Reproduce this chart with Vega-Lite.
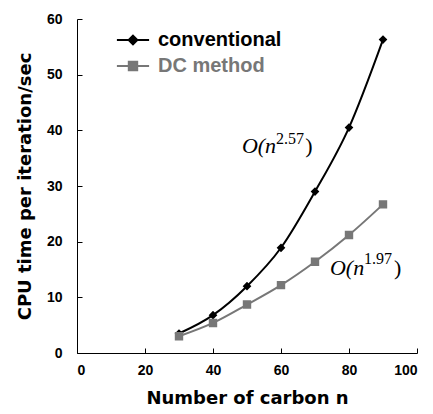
{
  "$schema": "https://vega.github.io/schema/vega-lite/v6.json",
  "autosize": {"type": "none"},
  "padding": {"left": 77, "top": 19, "right": 16, "bottom": 61},
  "width": 340,
  "height": 334,
  "background": "white",
  "config": {
    "view": {"stroke": null},
    "axis": {
      "grid": false,
      "domainColor": "#000",
      "domainWidth": 1,
      "tickColor": "#000",
      "tickSize": -5,
      "labelFont": "Liberation Sans",
      "labelFontWeight": "bold",
      "labelFontSize": 14,
      "labelColor": "#000",
      "titleFont": "DejaVu Sans",
      "titleFontWeight": "bold",
      "titleFontSize": 18,
      "titleColor": "#000"
    }
  },
  "datasets": {
    "cpu": [
      {"n": 30, "time": 3.5, "series": "conventional"},
      {"n": 40, "time": 6.8, "series": "conventional"},
      {"n": 50, "time": 12.0, "series": "conventional"},
      {"n": 60, "time": 18.9, "series": "conventional"},
      {"n": 70, "time": 29.0, "series": "conventional"},
      {"n": 80, "time": 40.5, "series": "conventional"},
      {"n": 90, "time": 56.3, "series": "conventional"},
      {"n": 30, "time": 3.0, "series": "DC method"},
      {"n": 40, "time": 5.4, "series": "DC method"},
      {"n": 50, "time": 8.7, "series": "DC method"},
      {"n": 60, "time": 12.2, "series": "DC method"},
      {"n": 70, "time": 16.4, "series": "DC method"},
      {"n": 80, "time": 21.2, "series": "DC method"},
      {"n": 90, "time": 26.7, "series": "DC method"}
    ],
    "notes_base": [
      {"n": 48.5, "time": 35.9, "text": "O(n"},
      {"n": 74.4, "time": 14.0, "text": "O(n"}
    ],
    "notes_sup": [
      {"n": 58.5, "time": 37.5, "text": "2.57"},
      {"n": 84.4, "time": 16.0, "text": "1.97"}
    ],
    "notes_close": [
      {"n": 67.1, "time": 35.9, "text": ")"},
      {"n": 93.2, "time": 14.0, "text": ")"}
    ]
  },
  "layer": [
    {
      "data": {"name": "cpu"},
      "mark": {"type": "line", "interpolate": "monotone", "strokeWidth": 2},
      "encoding": {
        "x": {"field": "n", "type": "quantitative", "scale": {"domain": [0, 100], "nice": false}, "axis": {"values": [0, 20, 40, 60, 80, 100], "title": "Number of carbon n", "labelPadding": 15, "titlePadding": 12}},
        "y": {"field": "time", "type": "quantitative", "scale": {"domain": [0, 60], "nice": false}, "axis": {"values": [0, 10, 20, 30, 40, 50, 60], "title": "CPU time per iteration/sec", "labelPadding": 20, "titlePadding": 12}},
        "color": {
          "field": "series", "type": "nominal",
          "scale": {"domain": ["conventional", "DC method"], "range": ["#000000", "#777777"]},
          "legend": {
            "orient": "none", "legendX": 46, "legendY": 11, "title": null, "padding": 0,
            "symbolSize": 196, "symbolStrokeWidth": 2, "labelOffset": 15, "rowPadding": 6,
            "labelFont": "Liberation Sans", "labelFontWeight": "bold", "labelFontSize": 20,
            "encode": {
              "symbols": {"update": {
                "strokeWidth": {"value": 2}
              }},
              "labels": {"update": {
                "fill": {"signal": "datum.value === 'conventional' ? '#000000' : '#777777'"}
              }}
            }
          }
        }
      }
    },
    {
      "data": {"name": "cpu"},
      "mark": {"type": "point", "filled": false, "opacity": 1, "strokeWidth": 0, "fillOpacity": 1},
      "encoding": {
        "x": {"field": "n", "type": "quantitative"},
        "y": {"field": "time", "type": "quantitative"},
        "color": {"field": "series", "type": "nominal"},
        "fill": {"field": "series", "type": "nominal", "scale": {"domain": ["conventional", "DC method"], "range": ["#000000", "#777777"]}},
        "shape": {"field": "series", "type": "nominal", "scale": {"domain": ["conventional", "DC method"], "range": ["M-2.3,0H2.3M0,-0.62L0.62,0L0,0.62L-0.62,0Z", "M-2.3,0H2.3M-0.6,-0.6H0.6V0.6H-0.6Z"]}},
        "size": {"value": 196}
      }
    },
    {
      "data": {"name": "notes_base"},
      "mark": {"type": "text", "align": "left", "baseline": "alphabetic", "font": "Liberation Serif", "fontStyle": "italic", "fontSize": 22, "color": "#000"},
      "encoding": {
        "x": {"field": "n", "type": "quantitative"},
        "y": {"field": "time", "type": "quantitative"},
        "text": {"field": "text"}
      }
    },
    {
      "data": {"name": "notes_sup"},
      "mark": {"type": "text", "align": "left", "baseline": "alphabetic", "font": "Liberation Serif", "fontSize": 16, "color": "#000"},
      "encoding": {
        "x": {"field": "n", "type": "quantitative"},
        "y": {"field": "time", "type": "quantitative"},
        "text": {"field": "text"}
      }
    },
    {
      "data": {"name": "notes_close"},
      "mark": {"type": "text", "align": "left", "baseline": "alphabetic", "font": "Liberation Serif", "fontSize": 22, "color": "#000"},
      "encoding": {
        "x": {"field": "n", "type": "quantitative"},
        "y": {"field": "time", "type": "quantitative"},
        "text": {"field": "text"}
      }
    }
  ]
}
